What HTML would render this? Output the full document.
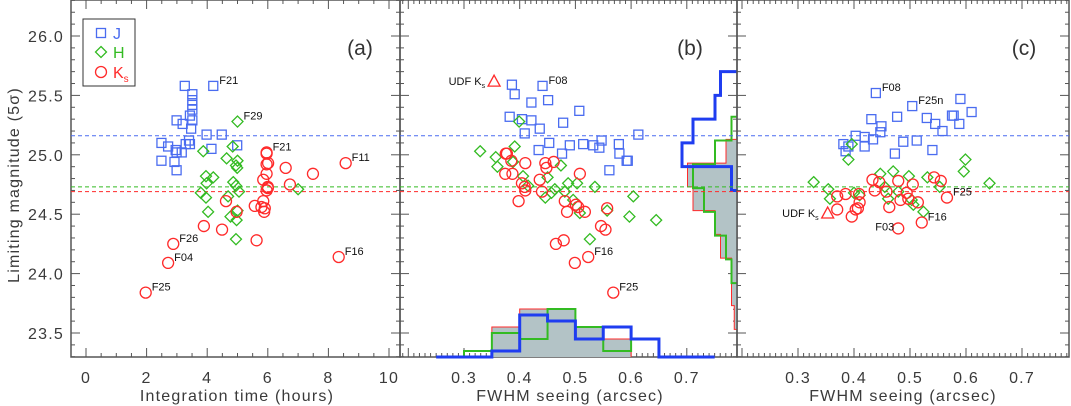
<!DOCTYPE html>
<html><head><meta charset="utf-8"><style>
html,body{margin:0;padding:0;background:#fff}
svg{display:block;font-family:"Liberation Sans",sans-serif}
</style></head><body>
<svg id="fig" width="1071" height="406" viewBox="0 0 1071 406" xmlns="http://www.w3.org/2000/svg">
<rect width="1071" height="406" fill="#fff"/>
</svg>
<script>
// ---- data: panel (a) integration time (hours) vs limiting magnitude
const aJ_t=[3.26,4.20,3.51,3.51,3.51,3.51,3.43,2.99,3.51,3.19,3.47,3.98,4.48,3.40,2.49,3.29,3.43,4.99,2.71,4.14,2.96,3.16,2.99,2.49,2.92,2.99];
const aJ_m=[25.58,25.58,25.51,25.46,25.42,25.38,25.33,25.29,25.29,25.26,25.22,25.17,25.17,25.12,25.10,25.09,25.09,25.08,25.07,25.05,25.04,25.02,25.02,24.95,24.94,24.87];
const aH_t=[5.00,4.84,3.87,4.64,5.00,4.95,4.99,3.96,4.20,3.98,4.86,4.95,5.05,7.00,3.79,3.96,4.69,4.03,5.00,4.77,4.97,4.95];
const aH_m=[25.28,25.07,25.03,24.97,24.95,24.91,24.89,24.82,24.81,24.76,24.77,24.74,24.69,24.71,24.68,24.64,24.65,24.52,24.53,24.48,24.45,24.29];
const aK_t=[5.96,5.96,5.96,6.01,6.59,8.57,7.49,5.96,5.85,6.73,6.00,5.96,6.00,4.62,5.85,5.57,5.79,5.90,5.88,4.97,3.89,4.49,5.63,2.88,2.71,8.34,1.97];
const aK_m=[25.02,25.01,24.92,24.93,24.89,24.93,24.84,24.84,24.79,24.75,24.73,24.70,24.72,24.61,24.61,24.57,24.56,24.55,24.52,24.52,24.40,24.37,24.28,24.25,24.09,24.14,23.84];
// ---- panel (b) seeing vs limiting magnitude
const bJ_s=[0.386,0.441,0.391,0.451,0.421,0.507,0.382,0.404,0.421,0.478,0.436,0.409,0.613,0.453,0.514,0.532,0.547,0.490,0.578,0.543,0.434,0.476,0.579,0.592,0.594,0.561];
const bJ_m=[25.59,25.58,25.51,25.46,25.44,25.37,25.32,25.30,25.29,25.27,25.22,25.18,25.17,25.10,25.09,25.08,25.12,25.08,25.09,25.06,25.04,25.01,25.01,24.95,24.95,24.87];
const bH_s=[0.399,0.329,0.391,0.357,0.388,0.360,0.474,0.406,0.450,0.487,0.503,0.415,0.535,0.463,0.481,0.457,0.446,0.604,0.496,0.508,0.557,0.597,0.645,0.526];
const bH_m=[25.28,25.03,25.07,24.98,24.94,24.90,24.91,24.82,24.81,24.76,24.76,24.74,24.73,24.71,24.69,24.68,24.64,24.65,24.62,24.51,24.53,24.48,24.45,24.29];
const bK_s=[0.375,0.377,0.385,0.410,0.446,0.461,0.448,0.374,0.387,0.508,0.436,0.404,0.409,0.410,0.440,0.398,0.481,0.501,0.505,0.485,0.517,0.557,0.546,0.554,0.479,0.465,0.523,0.499,0.568];
const bK_m=[25.01,25.01,24.95,24.93,24.93,24.94,24.89,24.84,24.84,24.84,24.79,24.76,24.73,24.70,24.69,24.61,24.61,24.58,24.56,24.52,24.52,24.55,24.40,24.37,24.28,24.25,24.14,24.09,23.84];
// ---- panel (c)
const cJ_s=[0.439,0.590,0.504,0.610,0.575,0.578,0.477,0.530,0.431,0.545,0.588,0.449,0.558,0.447,0.403,0.419,0.434,0.488,0.512,0.381,0.419,0.390,0.540,0.385,0.473];
const cJ_m=[25.52,25.47,25.41,25.36,25.33,25.33,25.32,25.31,25.30,25.26,25.26,25.24,25.20,25.19,25.16,25.15,25.13,25.11,25.12,25.09,25.07,25.07,25.04,25.03,25.01];
const cH_s=[0.396,0.390,0.599,0.596,0.470,0.447,0.498,0.531,0.328,0.642,0.553,0.354,0.455,0.479,0.400,0.410,0.357,0.461,0.503,0.506,0.524];
const cH_m=[25.09,24.96,24.96,24.86,24.86,24.84,24.82,24.81,24.77,24.76,24.73,24.71,24.73,24.69,24.68,24.66,24.63,24.63,24.62,24.58,24.52];
const cK_s=[0.433,0.445,0.479,0.505,0.543,0.555,0.437,0.458,0.370,0.385,0.409,0.494,0.483,0.497,0.514,0.566,0.410,0.407,0.370,0.403,0.463,0.396,0.521,0.479];
const cK_m=[24.79,24.77,24.78,24.75,24.81,24.78,24.70,24.69,24.65,24.67,24.67,24.68,24.62,24.63,24.60,24.64,24.60,24.55,24.54,24.54,24.56,24.48,24.43,24.38];
// ---- reference limits (dashed)
const limitMags=[25.16,24.73,24.69];
// ---- histograms in (b): bottom (seeing), unit counts
const histSeeJ_edges=[0.25,0.30,0.35,0.40,0.45,0.50,0.55,0.60,0.65,0.75];
const histSeeJ=[0,0,1,7,6,3,5,3,0];
const histSeeH_edges=[0.30,0.35,0.40,0.45,0.50,0.55,0.60,0.65];
const histSeeH=[1,4,3,8,5,1,3];
const histSeeK_edges=[0.35,0.40,0.45,0.50,0.55,0.60];
const histSeeK=[5,8,8,5,3];
// right histograms (magnitude, bins of 0.2)
const histMagJ_top=25.7; const histMagJ=[3,4,8,10,1];
const histMagH_top=25.32; const histMagH=[1,4,8,6,4,2,1];
const histMagK_top=25.13; const histMagK=[2,9,8,4,3,1,1,0.5];
// annotations
const annA=[["F21",4.20,25.58],["F29",5.00,25.28],["F21",5.96,25.02],["F11",8.57,24.93],["F26",2.88,24.25],["F04",2.71,24.09],["F16",8.34,24.14],["F25",1.97,23.84]];
const annB=[["F08",0.441,25.58],["F16",0.523,24.14],["F25",0.568,23.84]];
const annC=[["F08",0.439,25.52],["F25n",0.504,25.41],["F25",0.566,24.64],["F16",0.521,24.43]];
const udfB=[0.354,25.62]; const udfC=[0.353,24.51];
const yTicks=[26.0,25.5,25.0,24.5,24.0,23.5];
const xTicksA=[0,2,4,6,8,10];
const xTicksS=[0.3,0.4,0.5,0.6,0.7];

const NS="http://www.w3.org/2000/svg";
const svg=document.getElementById('fig');
function el(tag,attrs,parent){const e=document.createElementNS(NS,tag);for(const k in attrs)e.setAttribute(k,attrs[k]);(parent||svg).appendChild(e);return e;}
const COL={J:"#4a6cf0",H:"#33bb22",K:"#ff2a2a"};
const Y0=0,Y1=357;
function ym(m){return 36+(26-m)*118.8;}
const pA={x0:71,x1:400,sx:h=>86+h*30.3};
const pB={x0:400,x1:737,sx:s=>464+(s-0.3)*557};
const pC={x0:737,x1:1069,sx:s=>798+(s-0.3)*560};
const LAB={"font-size":16,fill:"#3a3a3a","letter-spacing":"1.2"};

function frame(p,name){
  const g=el('g',{});
  
  
  el('rect',{x:p.x0,y:Y0,width:p.x1-p.x0,height:Y1-Y0,fill:"none",stroke:"#555","stroke-width":1.5},g);
  for(let m=23.3;m<=26.31;m+=0.1){
    const y=ym(m);const major=Math.abs(m*2-Math.round(m*2))<0.01;const L=major?9:4;
    el('line',{x1:p.x0,x2:p.x0+L,y1:y,y2:y,stroke:"#555"},g);
    el('line',{x1:p.x1,x2:p.x1-L,y1:y,y2:y,stroke:"#555"},g);
  }
  return g;
}
function xticks(p,g,lo,hi,minor,majorEvery){
  for(let i=Math.ceil(lo/minor);i*minor<=hi;i++){
    const v=i*minor;const x=p.sx(v);if(x<p.x0||x>p.x1)continue;
    const major=(i%majorEvery)===0;const L=major?9:4;
    el('line',{x1:x,x2:x,y1:Y1,y2:Y1-L,stroke:"#555"},g);
    el('line',{x1:x,x2:x,y1:Y0,y2:Y0+L,stroke:"#555"},g);
  }
}
function dashes(p,g){
  const cols=[COL.J,COL.H,COL.K];
  limitMags.forEach((m,i)=>{
    const l=el('line',{x1:p.x0,x2:p.x1,y1:ym(m),y2:ym(m),stroke:cols[i],"stroke-dasharray":"4,3","stroke-width":1},g);
    
    
  });
}
function marker(type,x,y,g){
  let e;
  if(type==="J")e=el('rect',{x:x-4.5,y:y-4.5,width:9,height:9,fill:"none",stroke:COL.J,"stroke-width":1.3},g);
  else if(type==="H")e=el('polygon',{points:`${x},${y-5.5} ${x+5.5},${y} ${x},${y+5.5} ${x-5.5},${y}`,fill:"none",stroke:COL.H,"stroke-width":1.3},g);
  else e=el('circle',{cx:x,cy:y,r:5.5,fill:"none",stroke:COL.K,"stroke-width":1.3},g);
  
  
}
function series(p,g,type,xs,ms){xs.forEach((v,i)=>marker(type,p.sx(v),ym(ms[i]),g));}
function txt(x,y,s,attrs,g,name){const t=el('text',Object.assign({x:x,y:y},attrs),g);t.textContent=s;return t;}
function udf(p,g,pt){
  const x=p.sx(pt[0]),y=ym(pt[1]);
  const t=el('polygon',{points:`${x},${y-6} ${x+6},${y+5} ${x-6},${y+5}`,fill:"none",stroke:COL.K,"stroke-width":1.3},g);
  
  
  const lab=txt(x-9,y+4,"UDF K",{"text-anchor":"end","font-size":11,fill:"#111"},g,'udf-ks-label');
  const sub=el('tspan',{"font-size":7,dy:3},lab);sub.textContent="s";
}

// ---- Panel A
const gA=frame(pA,'panel-a');
xticks(pA,gA,0,10,0.5,4);
dashes(pA,gA);
series(pA,gA,"J",aJ_t,aJ_m);series(pA,gA,"H",aH_t,aH_m);series(pA,gA,"K",aK_t,aK_m);
annA.forEach(a=>txt(pA.sx(a[1])+6,ym(a[2])-2,a[0],{"font-size":11,fill:"#111"},gA,'point-annotation'));
xTicksA.forEach(v=>txt(pA.sx(v),383,String(v),Object.assign({"text-anchor":"middle"},LAB),gA,'x-tick-label'));
txt(237,401,"Integration time (hours)",Object.assign({"text-anchor":"middle"},LAB),gA,'x-axis-title-a');
txt(360,55,"(a)",{"text-anchor":"middle","font-size":21,fill:"#333"},gA,'panel-label-a');
const lg=el('g',{});


el('rect',{x:83,y:19,width:52,height:67,fill:"#fff",stroke:"#333","stroke-width":1},lg);
marker("J",101,33,lg);txt(113,39,"J",{"font-size":16,fill:COL.J},lg,'legend-entry-j');
marker("H",101,52,lg);txt(113,58,"H",{"font-size":16,fill:COL.H},lg,'legend-entry-h');
marker("K",101,72,lg);const kl=txt(113,78,"K",{"font-size":16,fill:COL.K},lg,'legend-entry-ks');
const ks=el('tspan',{"font-size":10,dy:4},kl);ks.textContent="s";

// ---- Panel B
const gB=frame(pB,'panel-b');
xticks(pB,gB,0.18,0.8,0.01,10);
const HU=6, MU=5.5;
function histX(edges,counts,color,w,fill,name){
  let d=`M${pB.sx(edges[0])},${Y1}`;
  counts.forEach((c,i)=>{d+=` L${pB.sx(edges[i])},${Y1-c*HU} L${pB.sx(edges[i+1])},${Y1-c*HU}`;});
  d+=` L${pB.sx(edges[edges.length-1])},${Y1}`;
  const e=el('path',{d:d,fill:fill||"none",stroke:color,"stroke-width":w},gB);
  
}
function histY(top,counts,color,w,fill,name){
  const X=pB.x1;let d=`M${X},${ym(top)}`;
  counts.forEach((c,i)=>{const ya=ym(top-0.2*i),yb=ym(top-0.2*(i+1));d+=` L${X-c*MU},${ya} L${X-c*MU},${yb}`;});
  d+=` L${X},${ym(top-0.2*counts.length)}`;
  const e=el('path',{d:d,fill:fill||"none",stroke:color,"stroke-width":w},gB);
  
}
histX(histSeeK_edges,histSeeK,COL.K,1,"#b3c3c6",'hist-seeing-ks');
histY(histMagK_top,histMagK,COL.K,1,"#b3c3c6",'hist-mag-ks');
histX(histSeeH_edges,histSeeH,COL.H,2,null,'hist-seeing-h');
histY(histMagH_top,histMagH,COL.H,2,null,'hist-mag-h');
histX(histSeeJ_edges,histSeeJ,"#1f3df0",3,null,'hist-seeing-j');
histY(histMagJ_top,histMagJ,"#1f3df0",3,null,'hist-mag-j');
dashes(pB,gB);
series(pB,gB,"J",bJ_s,bJ_m);series(pB,gB,"H",bH_s,bH_m);series(pB,gB,"K",bK_s,bK_m);
annB.forEach(a=>txt(pB.sx(a[1])+6,ym(a[2])-2,a[0],{"font-size":11,fill:"#111"},gB,'point-annotation'));
udf(pB,gB,udfB);
xTicksS.forEach(v=>txt(pB.sx(v),383,v.toFixed(1),Object.assign({"text-anchor":"middle"},LAB),gB,'x-tick-label'));
txt(570,401,"FWHM seeing (arcsec)",Object.assign({"text-anchor":"middle"},LAB),gB,'x-axis-title-b');
txt(690,55,"(b)",{"text-anchor":"middle","font-size":21,fill:"#333"},gB,'panel-label-b');

// ---- Panel C
const gC=frame(pC,'panel-c');
xticks(pC,gC,0.18,0.8,0.01,10);
dashes(pC,gC);
series(pC,gC,"J",cJ_s,cJ_m);series(pC,gC,"H",cH_s,cH_m);series(pC,gC,"K",cK_s,cK_m);
annC.forEach(a=>txt(pC.sx(a[1])+6,ym(a[2])-2,a[0],{"font-size":11,fill:"#111"},gC,'point-annotation'));
txt(pC.sx(0.479)-4,ym(24.38)+2,"F03",{"text-anchor":"end","font-size":11,fill:"#111"},gC,'point-annotation');
udf(pC,gC,udfC);
xTicksS.forEach(v=>txt(pC.sx(v),383,v.toFixed(1),Object.assign({"text-anchor":"middle"},LAB),gC,'x-tick-label'));
txt(903,401,"FWHM seeing (arcsec)",Object.assign({"text-anchor":"middle"},LAB),gC,'x-axis-title-c');
txt(1024,55,"(c)",{"text-anchor":"middle","font-size":21,fill:"#333"},gC,'panel-label-c');

yTicks.forEach(v=>txt(64,ym(v)+6,v.toFixed(1),Object.assign({"text-anchor":"end"},LAB),svg,'y-tick-label'));
txt(0,0,"Limiting magnitude (5σ)",Object.assign({"text-anchor":"middle",transform:"translate(19,185) rotate(-90)"},LAB),svg,'y-axis-title');
</script>
</body></html>
